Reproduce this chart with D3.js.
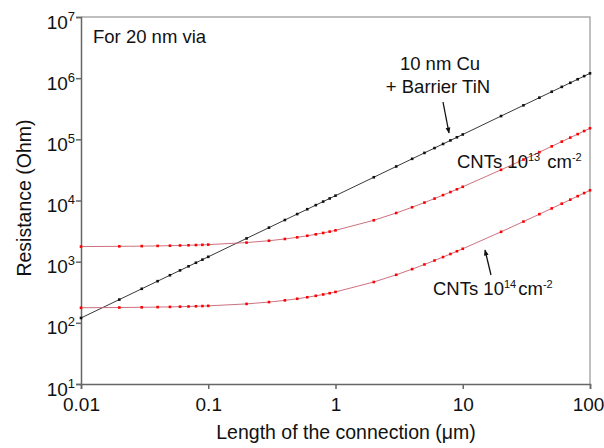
<!DOCTYPE html>
<html>
<head>
<meta charset="utf-8">
<script src="https://cdn.jsdelivr.net/npm/d3@7"></script>
<style>
	body { margin: 0; background: #fff; }
	svg { font-family: Arial, "Liberation Sans", sans-serif; }
	.tick text { font-size: 19px; fill: #111; }
</style>
</head>
<body>
<svg width="604" height="448"></svg>
<script>
// lengths in um
var lengths = [0.01,0.02,0.03,0.04,0.05,0.06,0.07,0.08,0.09,
	0.1,0.2,0.3,0.4,0.5,0.6,0.7,0.8,0.9,
	1,2,3,4,5,6,7,8,9,
	10,20,30,40,50,60,70,80,90,100];

// resistance (Ohm)
var cuTiN = [120,240,360,480,600,720,840,960,1080,
	1200,2400,3600,4800,6000,7200,8400,9600,10800,
	12000,24000,36000,48000,60000,72000,84000,96000,108000,
	120000,240000,360000,480000,600000,720000,840000,960000,1080000,1200000];
var cnt13 = [1765,1780,1795,1810,1825,1840,1855,1870,1885,
	1900,2050,2200,2350,2500,2650,2800,2950,3100,
	3250,4750,6250,7750,9250,10750,12250,13750,15250,
	16750,31750,46750,61750,76750,91750,106750,121750,136750,151750];
var cnt14 = [176.5,177.9,179.4,180.8,182.3,183.7,185.2,186.6,188.1,
	189.5,204,218.5,233,247.5,262,276.5,291,305.5,
	320,465,610,755,900,1045,1190,1335,1480,
	1625,3075,4525,5975,7425,8875,10325,11775,13225,14675];

var xTicks = [0.01, 0.1, 1, 10, 100];
var xTickLabels = ["0.01", "0.1", "1", "10", "100"];
var yExponents = [1, 2, 3, 4, 5, 6, 7];

// plot box (don't call it "top", window.top is read-only)
var pL = 81, pR = 590, pT = 17, pB = 384;
var svg = d3.select("svg");

var x = d3.scaleLog().domain([0.01, 100]).range([pL, pR]);
var y = d3.scaleLog().domain([10, 1e7]).range([pB, pT]);

// frame (top and right lighter)
svg.append("path")
	.attr("d", "M" + pL + "," + pT + "H" + pR + "V" + pB)
	.attr("fill", "none").attr("stroke", "#aaa").attr("stroke-width", 1.5);

var xAxis = svg.append("g").attr("transform", "translate(0," + pB + ")")
	.call(d3.axisBottom(x).tickValues(xTicks).tickSizeOuter(0).tickSize(5)
		.tickFormat(function(d, i) { return xTickLabels[i]; }));
xAxis.selectAll("text").attr("dy", null).attr("y", 27)
	.attr("x", function(d) { return d == 100 ? -2 : 0; });

var yAxis = svg.append("g").attr("transform", "translate(" + pL + ",0)")
	.call(d3.axisLeft(y).tickValues(yExponents.map(function(e) { return Math.pow(10, e); }))
		.tickSizeOuter(0).tickSize(5).tickFormat(""));
yAxis.selectAll(".tick").append("text")
	.attr("x", -6).attr("y", 11).attr("text-anchor", "end")
	.each(function(d) {
		var t = d3.select(this);
		t.append("tspan").text("10");
		t.append("tspan").attr("dy", -8).attr("font-size", "13px").text(Math.round(Math.log10(d)));
	});
svg.selectAll(".domain, .tick line").attr("stroke", "#666").attr("stroke-width", 1.5);

// series
var series = [
	{ values: cuTiN, line: "#222", dot: "#111" },
	{ values: cnt13, line: "#c86070", dot: "#f00" },
	{ values: cnt14, line: "#c86070", dot: "#f00" }
];
var line = d3.line().x(function(d) { return x(d[0]); }).y(function(d) { return y(d[1]); });

series.forEach(function(s) {
	var pts = lengths.map(function(l, i) { return [l, s.values[i]]; });
	svg.append("path").datum(pts).attr("d", line)
		.attr("fill", "none").attr("stroke", s.line).attr("stroke-width", 0.9);
	svg.append("g").selectAll("rect").data(pts).enter().append("rect")
		.attr("x", function(d) { return x(d[0]) - 1.3; })
		.attr("y", function(d) { return y(d[1]) - 1.3; })
		.attr("width", 2.6).attr("height", 2.6)
		.attr("fill", s.dot);
});

// labels
svg.append("text").attr("x", 93).attr("y", 43).attr("font-size", "18.5px").attr("fill", "#111").text("For 20 nm via");

svg.append("text").attr("x", 440).attr("y", 70).attr("text-anchor", "middle")
	.attr("font-size", "18.5px").attr("fill", "#111").text("10 nm Cu");
svg.append("text").attr("x", 438).attr("y", 93).attr("text-anchor", "middle")
	.attr("font-size", "18.5px").attr("fill", "#111").text("+ Barrier TiN");

function cntLabel(px, py, exp, gap) {
	var t = svg.append("text").attr("x", px).attr("y", py).attr("font-size", "18.5px").attr("fill", "#111");
	t.append("tspan").text("CNTs 10");
	t.append("tspan").attr("dy", -7).attr("font-size", "11px").text(exp);
	t.append("tspan").attr("dy", 7).attr("dx", gap).text("cm");
	t.append("tspan").attr("dy", -7).attr("font-size", "11px").text("-2");
}
cntLabel(457, 168, "13", 7);
cntLabel(433, 295, "14", 2);

svg.append("defs").append("marker").attr("id", "arr")
	.attr("viewBox", "0 0 10 10").attr("refX", 9).attr("refY", 5)
	.attr("markerWidth", 9).attr("markerHeight", 6).attr("orient", "auto")
	.attr("markerUnits", "userSpaceOnUse")
	.append("path").attr("d", "M0,1L10,5L0,9Z").attr("fill", "#111");

svg.append("line").attr("x1", 443).attr("y1", 102).attr("x2", 449).attr("y2", 133)
	.attr("stroke", "#111").attr("stroke-width", 1.3).attr("marker-end", "url(#arr)");
svg.append("line").attr("x1", 491).attr("y1", 275).attr("x2", 485).attr("y2", 250)
	.attr("stroke", "#111").attr("stroke-width", 1.3).attr("marker-end", "url(#arr)");

// axis titles
svg.append("text").attr("transform", "translate(31,198) rotate(-90)")
	.attr("text-anchor", "middle").attr("font-size", "19.5px").attr("fill", "#111").text("Resistance (Ohm)");
svg.append("text").attr("x", 346).attr("y", 439)
	.attr("text-anchor", "middle").attr("font-size", "19.5px").attr("fill", "#111").text("Length of the connection (\u03bcm)");
</script>
</body>
</html>
